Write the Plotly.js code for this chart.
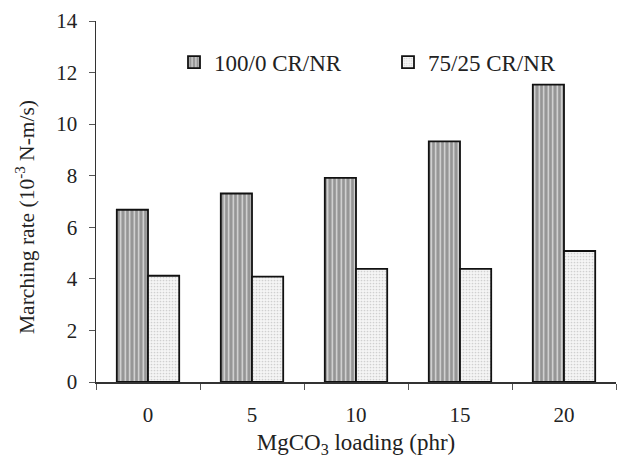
<!DOCTYPE html>
<html>
<head>
<meta charset="utf-8">
<script src="https://cdn.plot.ly/plotly-3.0.1.min.js"></script>
<style>html,body{margin:0;padding:0;background:#fff;}#chart{width:633px;height:459px;}</style>
</head>
<body>
<div id="chart"></div>
<script>
const categories = ["0", "5", "10", "15", "20"];
const seriesNames = ["100/0 CR/NR", "75/25 CR/NR"];
const crnr100_0 = [6.68, 7.31, 7.92, 9.33, 11.53];
const crnr75_25 = [4.12, 4.09, 4.39, 4.39, 5.08];
const yTickVals = [0, 2, 4, 6, 8, 10, 12, 14];
const xTitle = "MgCO<sub>3</sub> loading (phr)";
const yTitle = "Marching rate (10<sup>-3</sup> N-m/s)";

const serif = "'Liberation Serif', 'Times New Roman', serif";

const traces = [
  {
    type: "bar",
    name: seriesNames[0],
    x: categories,
    y: crnr100_0,
    marker: {
      color: "#959595",
      line: {color: "#111", width: 1.8},
      pattern: {shape: "|", fgcolor: "#e0e0e0", bgcolor: "#959595", size: 4.5, solidity: 0.3}
    },
    hoverinfo: "skip"
  },
  {
    type: "bar",
    name: seriesNames[1],
    x: categories,
    y: crnr75_25,
    marker: {
      color: "#f3f3f3",
      line: {color: "#111", width: 1.8},
      pattern: {shape: ".", fgcolor: "#d0d0d0", bgcolor: "#f5f5f5", size: 3, solidity: 0.25}
    },
    hoverinfo: "skip"
  }
];

const layout = {
  width: 633,
  height: 459,
  margin: {l: 96, r: 17, t: 21, b: 77},
  paper_bgcolor: "#fff",
  plot_bgcolor: "#fff",
  font: {family: serif, size: 20, color: "#222"},
  barmode: "group",
  bargap: 0.4,
  bargroupgap: 0,
  showlegend: true,
  legend: {
    orientation: "h",
    x: 0.15, y: 0.886, xanchor: "left", yanchor: "middle",
    font: {family: serif, size: 23, color: "#222"},
    bgcolor: "rgba(0,0,0,0)",
    itemwidth: 30,
    entrywidth: 169,
    entrywidthmode: "pixels",
    traceorder: "normal"
  },
  xaxis: {
    type: "category",
    showline: true, linecolor: "#333", linewidth: 1.5,
    ticks: "outside", tickson: "boundaries", ticklen: 6, tickcolor: "#555", tickwidth: 1,
    ticklabelstandoff: 13,
    showgrid: false, zeroline: false,
    tickfont: {family: serif, size: 21, color: "#222"},
    title: {text: xTitle, font: {family: serif, size: 23, color: "#222"}, standoff: 8},
    mirror: false
  },
  yaxis: {
    range: [0, 14],
    tickvals: yTickVals,
    showline: true, linecolor: "#333", linewidth: 1.5,
    ticks: "outside", ticklen: 6, tickcolor: "#555", tickwidth: 1,
    ticklabelstandoff: 7,
    showgrid: false, zeroline: false,
    tickfont: {family: serif, size: 21, color: "#222"}
  },
  annotations: [
    {
      text: yTitle,
      xref: "paper", yref: "paper",
      x: 0, y: 0.457,
      xanchor: "center", yanchor: "middle",
      xshift: -71,
      textangle: -90,
      showarrow: false,
      font: {family: serif, size: 21.5, color: "#222"}
    }
  ]
};

Plotly.newPlot("chart", traces, layout, {displayModeBar: false, staticPlot: true});
</script>
</body>
</html>
